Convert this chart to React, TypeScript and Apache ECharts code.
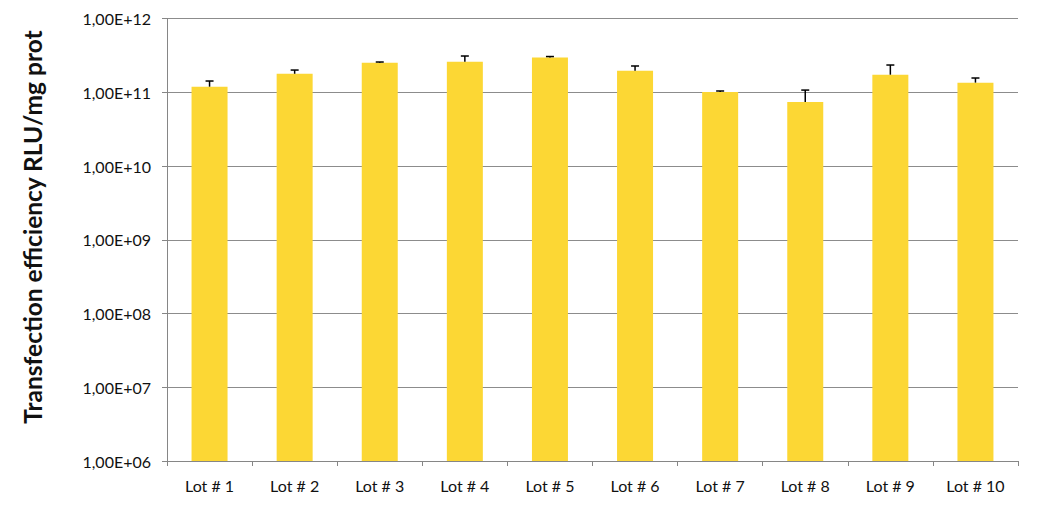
import React, { useEffect, useRef } from "react";
import * as echarts from "echarts";

const categories = ["Lot # 1", "Lot # 2", "Lot # 3", "Lot # 4", "Lot # 5", "Lot # 6", "Lot # 7", "Lot # 8", "Lot # 9", "Lot # 10"];
const values = [1.19e11, 1.78e11, 2.52e11, 2.6e11, 2.97e11, 1.96e11, 1.01e11, 7.4e10, 1.73e11, 1.35e11];
const errorTops = [1.42e11, 2.0e11, 2.57e11, 3.1e11, 3.05e11, 2.27e11, 1.04e11, 1.07e11, 2.34e11, 1.56e11];
const yMin = 1e6;
const yMax = 1e12;
const yTitle = "Transfection efficiency RLU/mg prot";

export default function App() {
  const ref = useRef<HTMLDivElement>(null);
  useEffect(() => {
    document.body.style.margin = "0";
    const chart = echarts.init(ref.current!, undefined, { renderer: "svg" });
    const font = "Lato, 'Open Sans', sans-serif";
    chart.setOption({
      animation: false,
      grid: { left: 167, right: 21, top: 18.5, bottom: 44, containLabel: false, outerBoundsMode: "none" },
      graphic: [
        {
          type: "text",
          x: 32,
          y: 227,
          rotation: Math.PI / 2,
          style: {
            text: yTitle,
            fontSize: 24.5,
            fontWeight: "bold",
            fontFamily: font,
            fill: "#111",
            align: "center",
            verticalAlign: "middle",
          },
        },
      ],
      xAxis: {
        type: "category",
        data: categories,
        axisLine: { lineStyle: { color: "#868686", width: 1 } },
        axisTick: { show: true, length: 5, lineStyle: { color: "#868686" } },
        axisLabel: { color: "#111", fontSize: 16, fontFamily: font, margin: 16 },
      },
      yAxis: {
        type: "log",
        logBase: 10,
        min: yMin,
        max: yMax,
        axisLine: { show: true, lineStyle: { color: "#868686", width: 1 } },
        axisTick: { show: true, length: 5, lineStyle: { color: "#868686" } },
        splitLine: { show: true, lineStyle: { color: "#8c8c8c", width: 1 } },
        axisLabel: {
          color: "#111",
          fontSize: 16,
          fontFamily: font,
          margin: 16,
          formatter: (v: number) => {
            const e = Math.round(Math.log10(v));
            return "1,00E+" + (e < 10 ? "0" + e : String(e));
          },
        },
      },
      series: [
        {
          type: "bar",
          data: values,
          barWidth: 36,
          itemStyle: { color: "#FCD734" },
        },
        {
          type: "custom",
          data: categories.map((_, i) => [i, values[i], errorTops[i]]),
          encode: { x: 0, y: [1, 2] },
          z: 5,
          renderItem: (params: any, api: any) => {
            const i = api.value(0);
            const p0 = api.coord([i, api.value(1)]);
            const p1 = api.coord([i, api.value(2)]);
            const half = 4;
            return {
              type: "group",
              children: [
                { type: "line", shape: { x1: p0[0], y1: p0[1], x2: p1[0], y2: p1[1] }, style: { stroke: "#000", lineWidth: 1.5 } },
                { type: "line", shape: { x1: p1[0] - half, y1: p1[1], x2: p1[0] + half, y2: p1[1] }, style: { stroke: "#000", lineWidth: 1.5 } },
              ],
            };
          },
        },
      ],
    });
    return () => chart.dispose();
  }, []);
  return <div ref={ref} style={{ width: 1039, height: 505 }} />;
}
